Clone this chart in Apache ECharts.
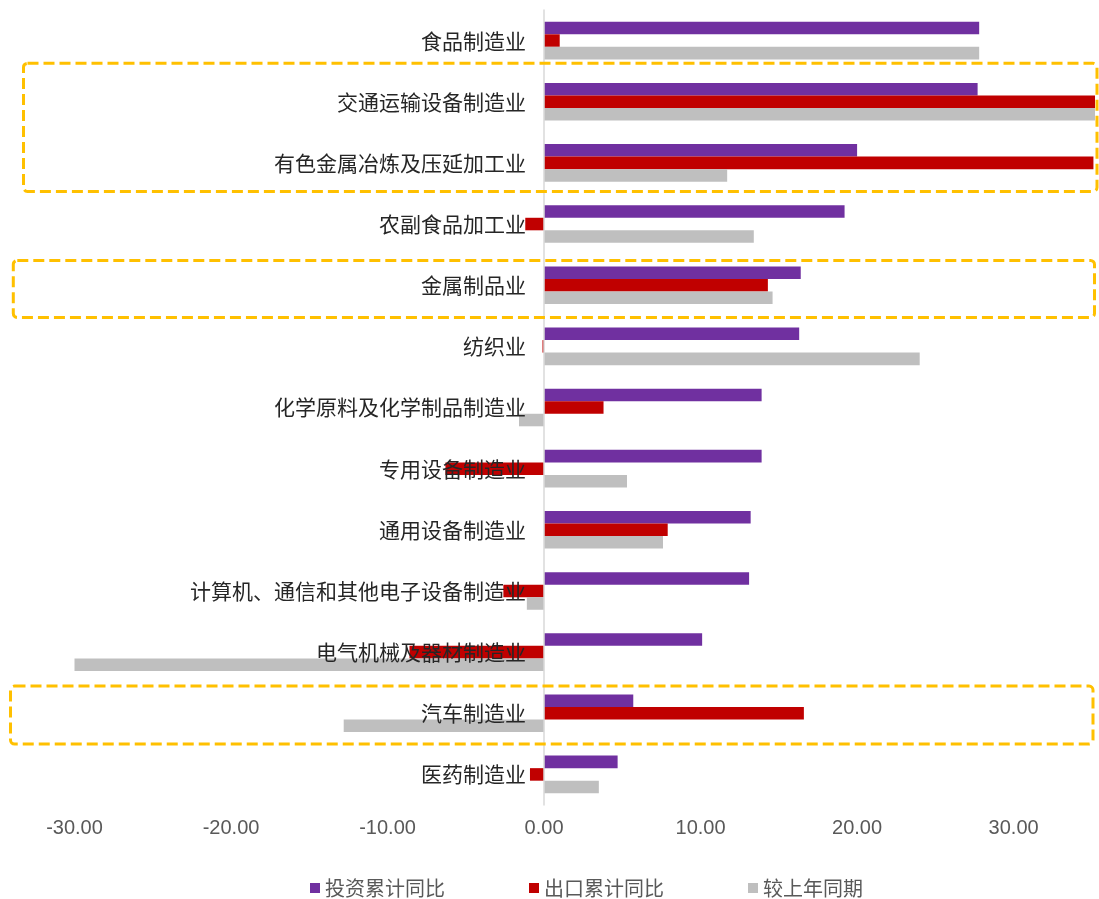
<!DOCTYPE html>
<html>
<head>
<meta charset="utf-8">
<script src="https://cdn.jsdelivr.net/npm/echarts@6/dist/echarts.min.js"></script>
<style>
html,body{margin:0;padding:0;background:#fff;}
#chart{width:1099px;height:899px;}
</style>
</head>
<body>
<div id="chart"></div>
<script>
// ---- data ----
var categories = ['食品制造业','交通运输设备制造业','有色金属冶炼及压延加工业','农副食品加工业','金属制品业','纺织业','化学原料及化学制品制造业','专用设备制造业','通用设备制造业','计算机、通信和其他电子设备制造业','电气机械及器材制造业','汽车制造业','医药制造业'];
var seriesNames = ['投资累计同比','出口累计同比','较上年同期'];
var investYoY = [27.8, 27.7, 20.0, 19.2, 16.4, 16.3, 13.9, 13.9, 13.2, 13.1, 10.1, 5.7, 4.7];
var exportYoY = [1.0, 36.5, 35.1, -1.2, 14.3, -0.1, 3.8, -6.3, 7.9, -2.6, -8.6, 16.6, -0.9];
var vsLastYear = [27.8, 35.9, 11.7, 13.4, 14.6, 24.0, -1.6, 5.3, 7.6, -1.1, -30.0, -12.8, 3.5];
var xTicks = [-30, -20, -10, 0, 10, 20, 30];
// highlighted groups (first and last category of each dashed box)
var highlightGroups = [
  ['交通运输设备制造业','有色金属冶炼及压延加工业'],
  ['金属制品业','金属制品业'],
  ['汽车制造业','汽车制造业']
];

var colors = ['#7030A0','#C00000','#BFBFBF'];
var chart = echarts.init(document.getElementById('chart'));
var values = [investYoY, exportYoY, vsLastYear];
var gridLeft = 74.5;

var option = {
  animation: false,
  backgroundColor: '#fff',
  color: colors,
  grid: {left: gridLeft, right: 4, top: 10, bottom: 94, containLabel: false, outerBoundsMode: 'none'},
  legend: {
    data: seriesNames,
    left: 305, top: 872,
    itemWidth: 10, itemHeight: 10, itemGap: 84,
    icon: 'rect',
    textStyle: {fontSize: 20, lineHeight: 22, color: '#595959', fontFamily: 'Noto Sans CJK SC'}
  },
  xAxis: {
    type: 'value',
    min: -30, max: 35.2, interval: 10,
    axisLine: {show: false},
    axisTick: {show: false},
    splitLine: {show: false},
    axisLabel: {
      margin: 13,
      fontSize: 20, color: '#595959', fontFamily: 'Liberation Sans',
      showMaxLabel: false,
      formatter: function (v) { return xTicks.indexOf(Math.round(v*100)/100) >= 0 ? v.toFixed(2) : ''; }
    }
  },
  yAxis: {
    type: 'category',
    data: categories,
    inverse: true,
    z: 5,
    offset: 0,
    axisLine: {show: true, onZero: false, lineStyle: {color: '#D9D9D9', width: 1.5}},
    axisTick: {show: false},
    axisLabel: {margin: 18, fontSize: 21, color: '#262626', fontFamily: 'Noto Sans CJK SC'}
  },
  series: seriesNames.map(function (n, i) {
    return {
      name: n, type: 'bar', data: values[i],
      barGap: '0%', barCategoryGap: '38.5%',
      itemStyle: {color: colors[i]}
    };
  })
};
chart.setOption(option);

// move the category axis (line + labels) onto x = 0
var zeroX = chart.convertToPixel({xAxisIndex: 0}, 0);
chart.setOption({yAxis: {offset: -(zeroX - gridLeft)}});

var boxStyle = [
  {x1: 23.5, x2: 1097, top: -38.4, bottom: 28.6},
  {x1: 13.3, x2: 1094.5, top: -24.7, bottom: 32.3},
  {x1: 10.5, x2: 1093, top: -27.2, bottom: 30.8}
];
var graphics = highlightGroups.map(function (g, i) {
  var y1 = chart.convertToPixel({yAxisIndex: 0}, g[0]);
  var y2 = chart.convertToPixel({yAxisIndex: 0}, g[1]);
  var s = boxStyle[i];
  var top = y1 + s.top, bottom = y2 + s.bottom;
  return {
    type: 'rect', z: 100,
    shape: {x: s.x1, y: top, width: s.x2 - s.x1, height: bottom - top, r: 4},
    style: {fill: 'none', stroke: '#FFC000', lineWidth: 3, lineDash: [11, 5]}
  };
});
chart.setOption({graphic: graphics});
</script>
</body>
</html>
